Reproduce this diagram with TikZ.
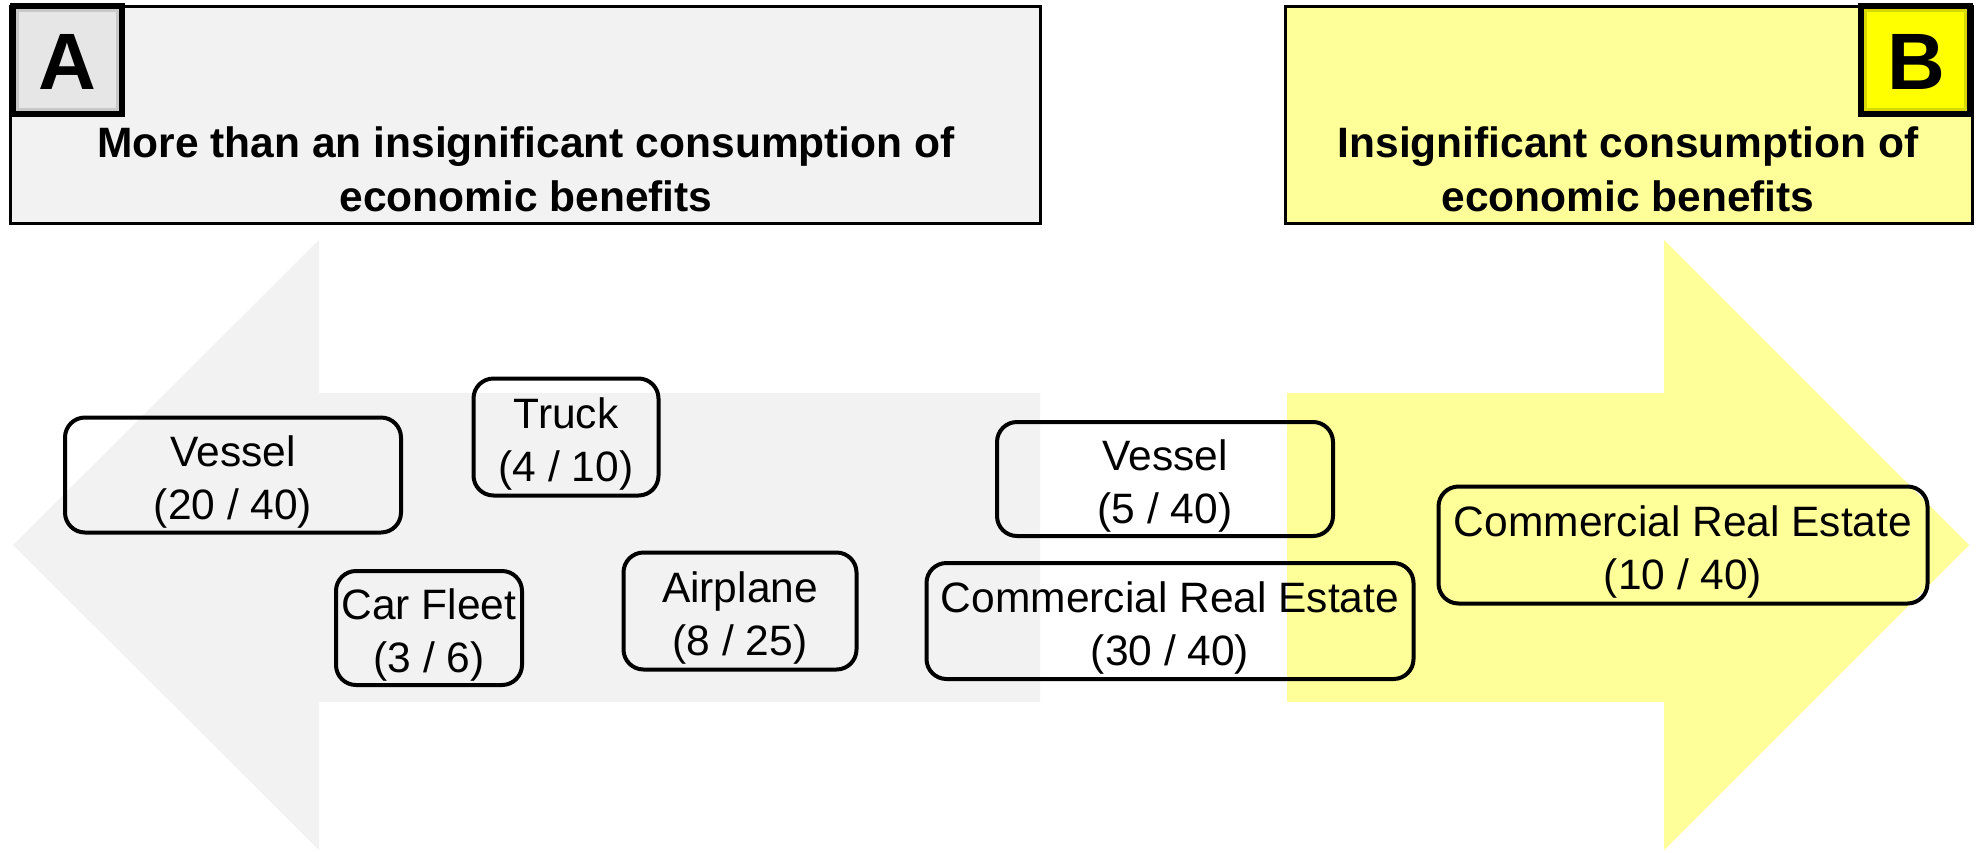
\documentclass[tikz,border=0pt]{standalone}
\usepackage{fontspec}
\setmainfont{Liberation Sans}
\definecolor{lgrey}{HTML}{F2F2F2}
\definecolor{lyellow}{HTML}{FFFF99}
\definecolor{byellow}{HTML}{FFFF00}
\definecolor{dyellow}{HTML}{D8D800}
\definecolor{bevgrey}{HTML}{C8C8C8}
\definecolor{facegrey}{HTML}{E6E6E6}
\begin{document}
\begin{tikzpicture}[x=1pt,y=-1pt,
  rbox/.style={draw=black, line width=4pt, rounded corners=20pt, inner sep=0pt},
  boxtext/.style={align=center, inner sep=0pt, yshift=-7pt, font=\fontsize{42.5}{53}\selectfont},
  titlebox/.style={draw=black, line width=3pt},
  titletext/.style={align=center, font=\fontsize{42.5}{54}\selectfont\bfseries},
  letter/.style={font=\fontsize{80}{80}\selectfont\bfseries}
]
\useasboundingbox (0,0) rectangle (1977,852);

% big arrows
\fill[lgrey] (1040,393) -- (319,393) -- (319,240) -- (13,545) -- (319,850) -- (319,702) -- (1040,702) -- cycle;
\fill[lyellow] (1287,393) -- (1664,393) -- (1664,240) -- (1969,545) -- (1664,850) -- (1664,702) -- (1287,702) -- cycle;

% title boxes
\draw[titlebox, fill=lgrey] (10,6) rectangle (1040,223);
\draw[titlebox, fill=lyellow] (1285,6) rectangle (1972,223);
\node[titletext] (ta) at (526,169) {More than an insignificant consumption of\\economic benefits};
\node[titletext] (tb) at (1628,169) {Insignificant consumption of\\economic benefits};

% label squares
\fill[black] (10,3) rectangle (125,117);
\fill[bevgrey] (16,9) rectangle (119,111);
\fill[facegrey] (19,12) rectangle (116,108);
\node[letter] (la) at (67,62) {A};

\fill[black] (1858,3) rectangle (1973,117);
\fill[dyellow] (1864,9) rectangle (1967,111);
\fill[byellow] (1867,12) rectangle (1964,108);
\node[letter] (lb) at (1916,62) {B};

% asset boxes
\node[rbox, minimum width=336pt, minimum height=115pt] (v1) at (233,475) {};
\node[boxtext] (v1t) at (v1.center) {Vessel\\(20 / 40)};
\node[rbox, minimum width=185pt, minimum height=117pt] (tr) at (566,437) {};
\node[boxtext] (trt) at (tr.center) {Truck\\(4 / 10)};
\node[rbox, minimum width=186pt, minimum height=114pt] (cf) at (429,628) {};
\node[boxtext] (cft) at (cf.center) {Car Fleet\\(3 / 6)};
\node[rbox, minimum width=233pt, minimum height=117pt] (ap) at (740,611) {};
\node[boxtext] (apt) at (ap.center) {Airplane\\(8 / 25)};
\node[rbox, minimum width=336pt, minimum height=114pt] (v2) at (1165,479) {};
\node[boxtext] (v2t) at (v2.center) {Vessel\\(5 / 40)};
\node[rbox, minimum width=487pt, minimum height=116pt] (c1) at (1170,621) {};
\node[boxtext] (c1t) at (c1.center) {Commercial Real Estate\\(30 / 40)};
\node[rbox, minimum width=489pt, minimum height=117pt] (c2) at (1683,545) {};
\node[boxtext] (c2t) at (c2.center) {Commercial Real Estate\\(10 / 40)};
\end{tikzpicture}
\end{document}
